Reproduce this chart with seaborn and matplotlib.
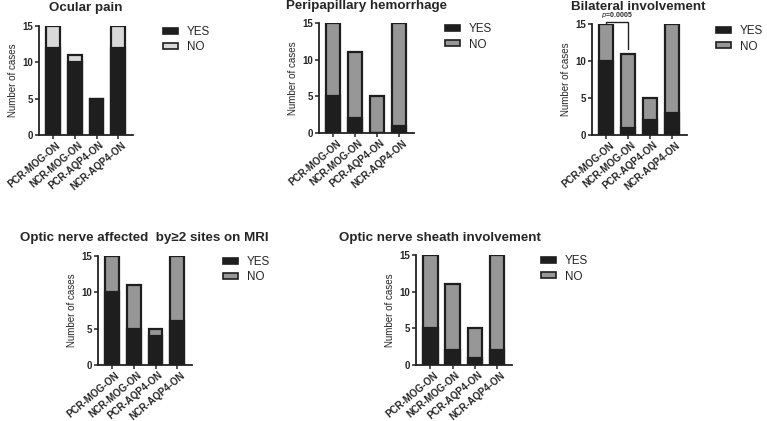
import numpy as np
import matplotlib
matplotlib.use("Agg")
import matplotlib.pyplot as plt
import matplotlib.transforms as mtransforms
import seaborn as sns
from matplotlib.patches import Patch

# ---------------------------------------------------
# Daten
# ---------------------------------------------------
groups = ["PCR-MOG-ON", "NCR-MOG-ON", "PCR-AQP4-ON", "NCR-AQP4-ON"]

ocular_yes = [12, 10, 5, 12]
ocular_no = [3, 1, 0, 3]

hemorrhage_yes = [5, 2, 0, 1]
hemorrhage_no = [10, 9, 5, 14]

bilateral_yes = [10, 1, 2, 3]
bilateral_no = [5, 10, 3, 12]

sites_yes = [10, 5, 4, 6]
sites_no = [5, 6, 1, 9]

sheath_yes = [5, 2, 1, 2]
sheath_no = [10, 9, 4, 13]

titles = [
    "Ocular pain",
    "Peripapillary hemorrhage",
    "Bilateral involvement",
    "Optic nerve affected  by\u22652 sites on MRI",
    "Optic nerve sheath involvement",
]

YES_COLOR = "#1e1e1e"
EDGE = "#1e1e1e"
W, H = 767, 421

sns.set_style("ticks")
plt.rcParams["font.family"] = ["Liberation Sans", "DejaVu Sans"]

fig = plt.figure(figsize=(W / 100, H / 100), dpi=100)


def px_axes(left, right, top, bottom):
    return fig.add_axes([left / W, 1 - bottom / H, (right - left) / W, (bottom - top) / H])


# (Achsen-Pixel, Titel-Mitte/Grundlinie, Legende, Daten, NO-Farbe)
panels = [
    ((39, 133, 26, 135), (86, 11), (163, 26), ocular_yes, ocular_no, "#d9d9d9"),
    ((319, 414, 23, 133), (366, 9), (445, 23), hemorrhage_yes, hemorrhage_no, "#979797"),
    ((592, 687, 24, 135), (638, 9.5), (716, 25), bilateral_yes, bilateral_no, "#979797"),
    ((98, 192, 256, 365), (144, 241), (223, 256), sites_yes, sites_no, "#979797"),
    ((416, 512, 255, 365), (440, 241), (541, 255), sheath_yes, sheath_no, "#979797"),
]

shift = mtransforms.ScaledTranslation(3 / 100, 0, fig.dpi_scale_trans)

axes = []
for i, (box, tpos, lpos, yes, no, no_color) in enumerate(panels):
    ax = px_axes(*box)
    totals = np.array(yes) + np.array(no)
    sns.barplot(x=groups, y=totals, color=no_color, saturation=1, width=0.64,
                edgecolor=EDGE, linewidth=1.6, ax=ax)
    sns.barplot(x=groups, y=yes, color=YES_COLOR, saturation=1, width=0.64,
                edgecolor=EDGE, linewidth=1.6, ax=ax)

    ax.set_ylim(0, 15)
    ax.set_xlim(-0.65, 3.68)
    ax.set_ylabel("Number of cases", fontsize=7, labelpad=3)
    ax.set_xlabel("")
    sns.despine(ax=ax)
    for s in ["left", "bottom"]:
        ax.spines[s].set_linewidth(1.3)
        ax.spines[s].set_color("#222222")
    ax.tick_params(axis="both", length=3, width=1.1, color="#222222", pad=1.5)
    ax.tick_params(axis="x", pad=0.5)
    ax.set_yticks([0, 5, 10, 15], ["0", "5", "10", "15"], fontsize=7, fontweight="bold")
    ax.set_xticks(range(4), groups, rotation=40, ha="right", rotation_mode="anchor",
                  fontsize=7, fontweight="bold")
    for lab in ax.get_xticklabels():
        lab.set_transform(lab.get_transform() + shift)

    fig.text(tpos[0] / W, 1 - tpos[1] / H, titles[i], ha="center", va="baseline",
             fontsize=9.6, fontweight="bold")

    handles = [Patch(facecolor=YES_COLOR, edgecolor=EDGE, linewidth=1.2),
               Patch(facecolor=no_color, edgecolor=EDGE, linewidth=1.2)]
    ax.legend(handles, ["YES", "NO"], loc="upper left",
              bbox_to_anchor=(lpos[0] / W, 1 - lpos[1] / H), bbox_transform=fig.transFigure,
              frameon=False, fontsize=8.4, borderpad=0, borderaxespad=0,
              handlelength=1.3, handleheight=0.45, handletextpad=0.75, labelspacing=0.3)
    axes.append(ax)

# p-Wert Klammer bei Bilateral involvement
ax3 = axes[2]
ax3.plot([0, 0, 1, 1], [15.0, 15.3, 15.3, 11.6], color="#222222", lw=1.0, clip_on=False)
ax3.text(0.5, 15.6, "$p$=0.0005", ha="center", va="bottom", fontsize=5,
         fontweight="bold", clip_on=False)

fig.savefig("out.png", dpi=100)
